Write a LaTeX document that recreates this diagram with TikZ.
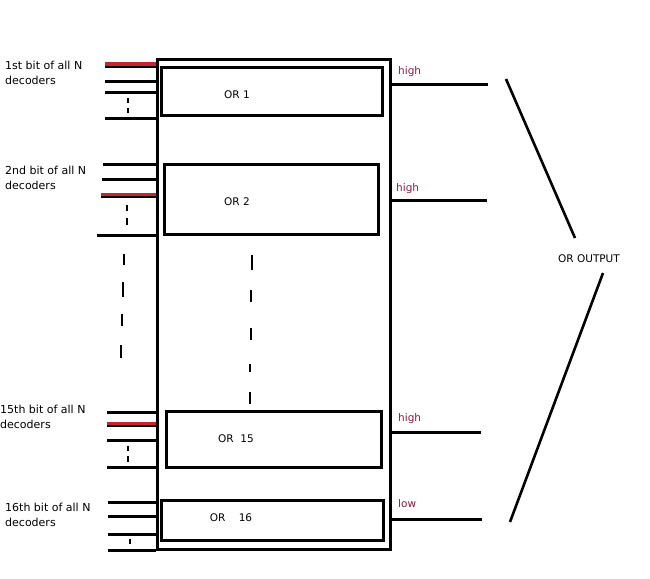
\documentclass[tikz,border=0pt]{standalone}
\usepackage{fontspec}
\setmainfont{DejaVu Sans}
\definecolor{wirered}{HTML}{C1272D}
\definecolor{lblred}{HTML}{8E1B3E}
\begin{document}
\begin{tikzpicture}[x=1pt,y=-1pt,
  box/.style={draw,line width=3pt,inner sep=0pt,anchor=north west},
  wire/.style={line width=3pt},
  redwire/.style={line width=3pt,wirered},
  tick/.style={line width=2.8pt},
  slant/.style={line width=2.6pt},
  lbl/.style={font=\fontsize{11}{15}\selectfont,anchor=west,inner sep=0pt,align=left},
  orlbl/.style={font=\fontsize{10.5}{12}\selectfont,inner sep=0pt},
  hl/.style={font=\fontsize{10.5}{12}\selectfont,text=lblred,anchor=west,inner sep=0pt}]
\useasboundingbox[fill=white] (0,0) rectangle (650,578);

% outer box and OR boxes
\node[box,minimum width=233pt,minimum height=490pt] (outer) at (156,58) {};
\node[box,minimum width=221pt,minimum height=48pt] (or1) at (160,66) {};
\node[box,minimum width=214pt,minimum height=70pt] (or2) at (163,163) {};
\node[box,minimum width=215pt,minimum height=56pt] (or15) at (165,410) {};
\node[box,minimum width=222pt,minimum height=40pt] (or16) at (160,499) {};

\node[orlbl] (t1) at (237,95) {OR 1};
\node[orlbl] (t2) at (237,202) {OR 2};
\node[orlbl] (t15) at (236,439) {OR\ \ 15};
\node[orlbl] (t16) at (231,518) {OR\ \ \ \ 16};

% left labels
\node[lbl] (l1) at (5,73) {1st bit of all N\\decoders};
\node[lbl] (l2) at (5,178) {2nd bit of all N\\decoders};
\node[lbl] (l15) at (0,417) {15th bit of all N\\decoders};
\node[lbl] (l16) at (5,515) {16th bit of all N\\decoders};

% group 1 inputs
\coordinate (a1) at (105,66); \coordinate (a2) at (105,81);
\coordinate (a3) at (105,92); \coordinate (a4) at (105,118);
\draw[wire] (a1) -- (a1 -| outer.west);
\draw[redwire] (105,64) -- (156,64);
\draw[wire] (a2) -- (a2 -| outer.west);
\draw[wire] (a3) -- (a3 -| outer.west);
\draw[wire] (a4) -- (a4 -| outer.west);
\draw[tick] (128,98) -- (128,103) (128,108) -- (128,113);

% group 2 inputs
\coordinate (b1) at (103,164); \coordinate (b2) at (102,179);
\coordinate (b3) at (101,196); \coordinate (b4) at (97,235);
\draw[wire] (b1) -- (b1 -| outer.west);
\draw[wire] (b2) -- (b2 -| outer.west);
\draw[wire] (b3) -- (b3 -| outer.west);
\draw[redwire] (101,194) -- (156,194);
\draw[wire] (b4) -- (b4 -| outer.west);
\draw[tick] (127,205) -- (127,211) (127,218) -- (127,225);

% group 15 inputs
\coordinate (c1) at (107,412); \coordinate (c2) at (107,425);
\coordinate (c3) at (107,440); \coordinate (c4) at (107,467);
\draw[wire] (c1) -- (c1 -| outer.west);
\draw[wire] (c2) -- (c2 -| outer.west);
\draw[redwire] (107,423) -- (156,423);
\draw[wire] (c3) -- (c3 -| outer.west);
\draw[wire] (c4) -- (c4 -| outer.west);
\draw[tick] (128,446) -- (128,451) (128,456) -- (128,462);

% group 16 inputs
\coordinate (d1) at (108,502); \coordinate (d2) at (108,516);
\coordinate (d3) at (108,534); \coordinate (d4) at (108,550);
\draw[wire] (d1) -- (d1 -| outer.west);
\draw[wire] (d2) -- (d2 -| outer.west);
\draw[wire] (d3) -- (d3 -| outer.west);
\draw[wire] (d4) -- (d4 -| outer.west);
\draw[tick] (130,539) -- (130,544);

% dotted continuation marks
\draw[tick] (124,254) -- (124,265) (123,282) -- (123,297) (122,314) -- (122,326) (121,345) -- (121,358);
\draw[tick] (252,255) -- (252,270) (251,290) -- (251,302) (251,328) -- (251,340) (250,364) -- (250,372) (250,392) -- (250,404);

% outputs
\coordinate (o1) at (488,84); \coordinate (o2) at (487,200);
\coordinate (o15) at (481,432); \coordinate (o16) at (482,519);
\draw[wire] (o1 -| outer.east) -- (o1);
\draw[wire] (o2 -| outer.east) -- (o2);
\draw[wire] (o15 -| outer.east) -- (o15);
\draw[wire] (o16 -| outer.east) -- (o16);
\node[hl] (h1) at (398,72) {high};
\node[hl] (h2) at (396,189) {high};
\node[hl] (h15) at (398,419) {high};
\node[hl] (h16) at (398,504) {low};

% OR output
\node[orlbl] (out) at (589,259) {OR OUTPUT};
\coordinate (s1) at (506,79); \coordinate (s2) at (575,238);
\coordinate (s3) at (603,273); \coordinate (s4) at (510,522);
\draw[slant] (s1) -- (s2);
\draw[slant] (s3) -- (s4);
\end{tikzpicture}
\end{document}
